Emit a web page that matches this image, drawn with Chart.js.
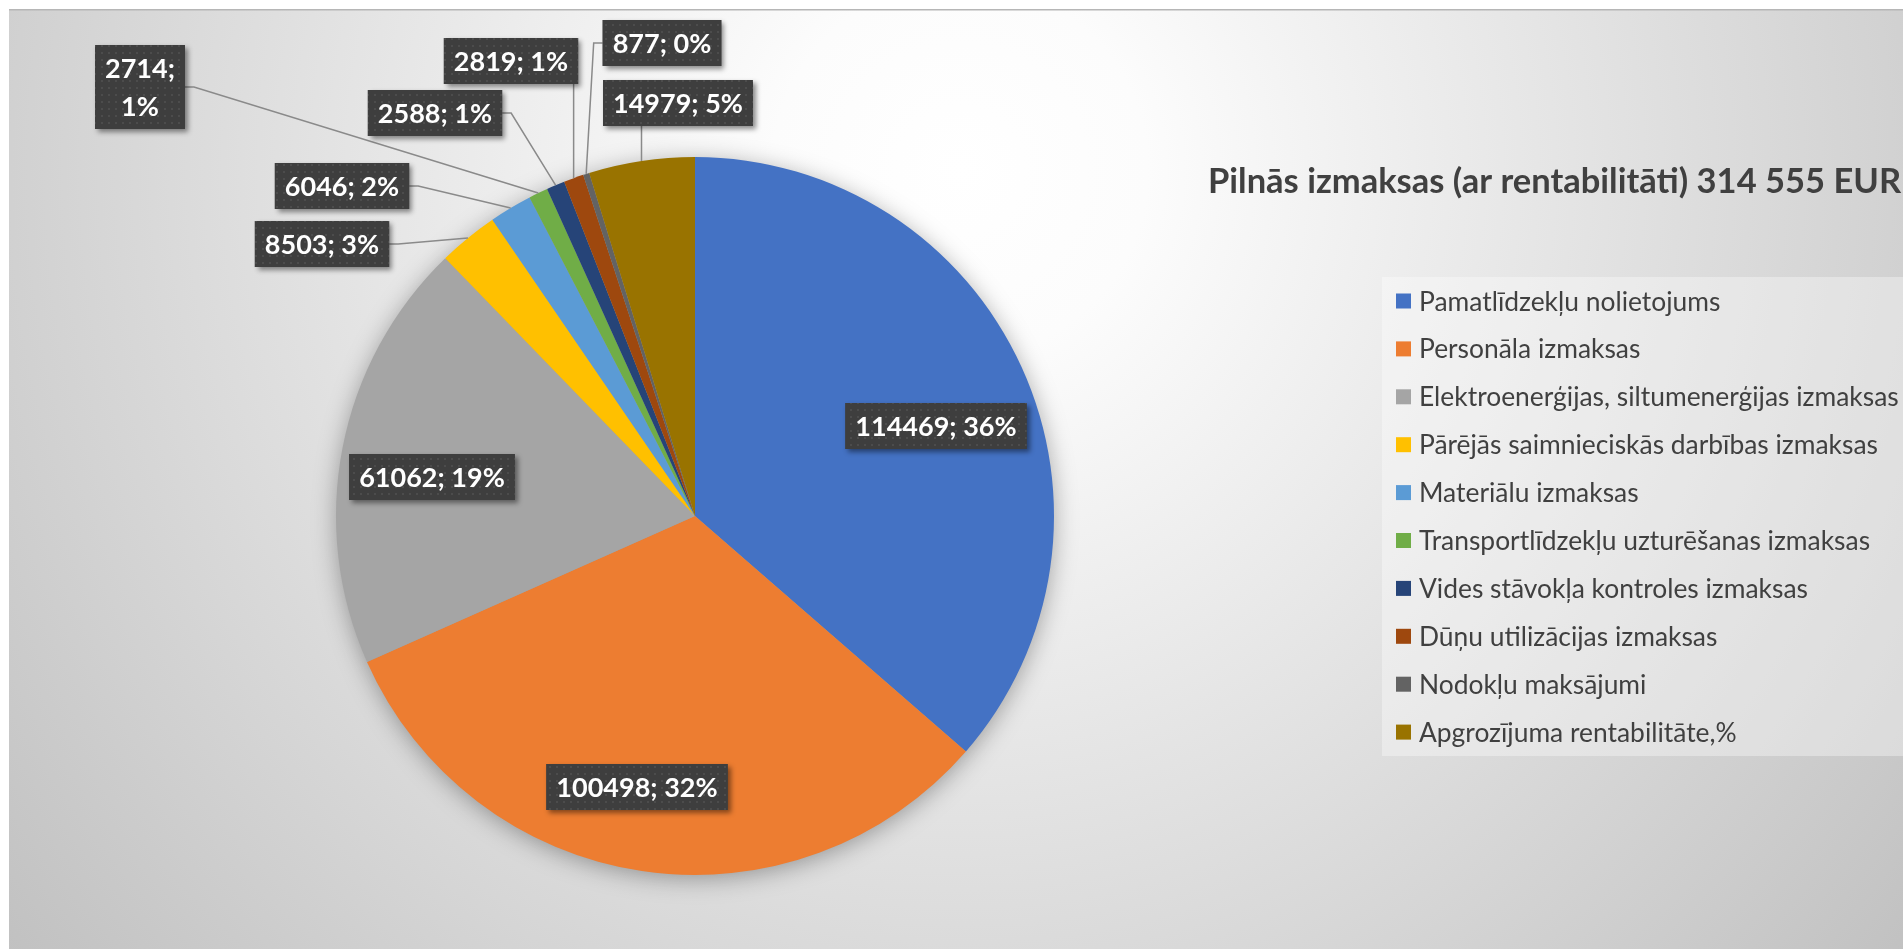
<!DOCTYPE html>
<html><head><meta charset="utf-8">
<script src="https://cdn.jsdelivr.net/npm/chart.js@4.4.0/dist/chart.umd.min.js"></script>
<style>html,body{margin:0;padding:0;background:#fff;overflow:hidden}canvas{display:block}</style>
</head><body>
<canvas id="c" width="1903" height="949"></canvas>
<script>
// ---- data ----
const categories = [
  'Pamatlīdzekļu nolietojums',
  'Personāla izmaksas',
  'Elektroenerģijas, siltumenerģijas izmaksas',
  'Pārējās saimnieciskās darbības izmaksas',
  'Materiālu izmaksas',
  'Transportlīdzekļu uzturēšanas izmaksas',
  'Vides stāvokļa kontroles izmaksas',
  'Dūņu utilizācijas izmaksas',
  'Nodokļu maksājumi',
  'Apgrozījuma rentabilitāte,%'
];
const values = [114469, 100498, 61062, 8503, 6046, 2714, 2588, 2819, 877, 14979];
const colors = ['#4472C4','#ED7D31','#A5A5A5','#FFC000','#5B9BD5','#70AD47','#264478','#9E480E','#636363','#997300'];
const chartTitle = 'Pilnās izmaksas (ar rentabilitāti) 314 555 EUR';

// ---- layout (label box centres relative to pie centre, px) ----
const labelOffsets = [[241,-90],[-58,271],[-263,-39],[-373,-272],[-353,-330],[-555,-429],[-260,-403],[-184,-455],[-33,-473],[-17,-413]];
const labelTwoLine = [false,false,false,false,false,true,false,false,false,false];
const labelLeader  = [false,false,false,true,true,true,true,true,true,true];

const W = 1903, H = 949;
const FONT = 'Lato, "Open Sans", sans-serif';

// dotted pattern for label boxes
const pc = document.createElement('canvas'); pc.width = 7; pc.height = 7;
const pctx = pc.getContext('2d');
pctx.fillStyle = '#3e3e3e'; pctx.fillRect(0,0,7,7);
pctx.fillStyle = '#4c4c4c'; pctx.fillRect(3,3,2,2);

const bgPlugin = {
  id: 'bg',
  beforeDraw(chart) {
    const ctx = chart.ctx;
    ctx.save();
    ctx.fillStyle = '#ffffff'; ctx.fillRect(0,0,W,H);
    const g = ctx.createRadialGradient(960,170,0,960,170,1250);
    g.addColorStop(0,'#ffffff'); g.addColorStop(0.15,'#fcfcfc'); g.addColorStop(1,'#c0c0c0');
    ctx.fillStyle = g; ctx.fillRect(9,10,W-9,H-10);
    ctx.fillStyle = '#b6b6b6'; ctx.fillRect(9,9,W-9,1.5);
    // legend panel
    ctx.fillStyle = 'rgba(255,255,255,0.35)'; ctx.fillRect(1382,277,W-1382,479);
    ctx.restore();
  },
  beforeDatasetsDraw(chart) {
    const ctx = chart.ctx;
    const a = chart.getDatasetMeta(0).data[0];
    ctx.save();
    ctx.shadowColor = 'rgba(0,0,0,0.35)'; ctx.shadowBlur = 24; ctx.shadowOffsetY = 4;
    ctx.beginPath(); ctx.arc(a.x, a.y, a.outerRadius - 1, 0, Math.PI*2);
    ctx.fillStyle = '#a0a0a0'; ctx.fill();
    ctx.restore();
  }
};

const labelPlugin = {
  id: 'labels',
  afterDatasetsDraw(chart) {
    const ctx = chart.ctx;
    const meta = chart.getDatasetMeta(0);
    const data = chart.data.datasets[0].data;
    const total = data.reduce((s,v)=>s+v,0);
    ctx.save();
    ctx.font = 'bold 27px ' + FONT;
    const boxes = meta.data.map((arc, i) => {
      const p = arc.getProps(['x','y','startAngle','endAngle','outerRadius'], true);
      const mid = (p.startAngle + p.endAngle) / 2;
      const ax = p.x + Math.cos(mid) * p.outerRadius;
      const ay = p.y + Math.sin(mid) * p.outerRadius;
      const text = data[i] + '; ' + Math.round(data[i] / total * 100) + '%';
      const lines = labelTwoLine[i] ? [data[i] + ';', Math.round(data[i] / total * 100) + '%'] : [text];
      const tw = Math.max(...lines.map(l => ctx.measureText(l).width));
      const bw = tw + 20, bh = lines.length === 1 ? 46 : 84;
      const cx = p.x + labelOffsets[i][0], cy = p.y + labelOffsets[i][1];
      return {lines, ax, ay, cx, cy, l: cx - bw/2, r: cx + bw/2, t: cy - bh/2, b: cy + bh/2, bw, bh};
    });
    // leader lines
    ctx.strokeStyle = '#8a8a8a'; ctx.lineWidth = 1.5;
    boxes.forEach((b, i) => {
      if (!labelLeader[i]) return;
      ctx.beginPath();
      if (b.ax > b.r) { ctx.moveTo(b.r, b.cy); ctx.lineTo(b.r + 9, b.cy); ctx.lineTo(b.ax, b.ay); }
      else if (b.ax < b.l) { ctx.moveTo(b.l, b.cy); ctx.lineTo(b.l - 9, b.cy); ctx.lineTo(b.ax, b.ay); }
      else { const yy = b.ay > b.b ? b.b : b.t; ctx.moveTo(b.ax, yy); ctx.lineTo(b.ax, b.ay); }
      ctx.stroke();
    });
    // boxes
    const pat = ctx.createPattern(pc, 'repeat');
    boxes.forEach(b => {
      ctx.save();
      ctx.shadowColor = 'rgba(0,0,0,0.45)'; ctx.shadowBlur = 5; ctx.shadowOffsetX = 3; ctx.shadowOffsetY = 3;
      ctx.fillStyle = '#3e3e3e';
      ctx.fillRect(b.l, b.t, b.bw, b.bh);
      ctx.restore();
      ctx.fillStyle = pat; ctx.fillRect(b.l, b.t, b.bw, b.bh);
      ctx.fillStyle = '#ffffff'; ctx.textAlign = 'center'; ctx.textBaseline = 'middle';
      if (b.lines.length === 1) ctx.fillText(b.lines[0], b.cx, b.cy + 1);
      else { ctx.fillText(b.lines[0], b.cx, b.cy - 18); ctx.fillText(b.lines[1], b.cx, b.cy + 20); }
    });
    ctx.restore();
  },
  afterDraw(chart) {
    const ctx = chart.ctx;
    ctx.save();
    // title
    ctx.fillStyle = '#404040'; ctx.font = 'bold 34.5px ' + FONT;
    ctx.textAlign = 'left'; ctx.textBaseline = 'alphabetic';
    ctx.fillText(chartTitle, 1208, 193);
    // legend
    ctx.font = '26.4px ' + FONT; ctx.textBaseline = 'middle';
    chart.data.labels.forEach((c, i) => {
      const y = 301 + i * 47.9;
      ctx.fillStyle = chart.data.datasets[0].backgroundColor[i];
      ctx.fillRect(1396, y - 7.5, 15, 15);
      ctx.fillStyle = '#404040';
      ctx.fillText(c, 1419, y + 1);
    });
    ctx.restore();
  }
};

new Chart(document.getElementById('c'), {
  type: 'pie',
  data: {
    labels: categories,
    datasets: [{ data: values, backgroundColor: colors, borderWidth: 0 }]
  },
  options: {
    responsive: false,
    animation: false,
    events: [],
    layout: { padding: { left: 336, right: 849, top: 157, bottom: 74 } },
    plugins: { legend: { display: false }, title: { display: false }, tooltip: { enabled: false } }
  },
  plugins: [bgPlugin, labelPlugin]
});
</script>
</body></html>
